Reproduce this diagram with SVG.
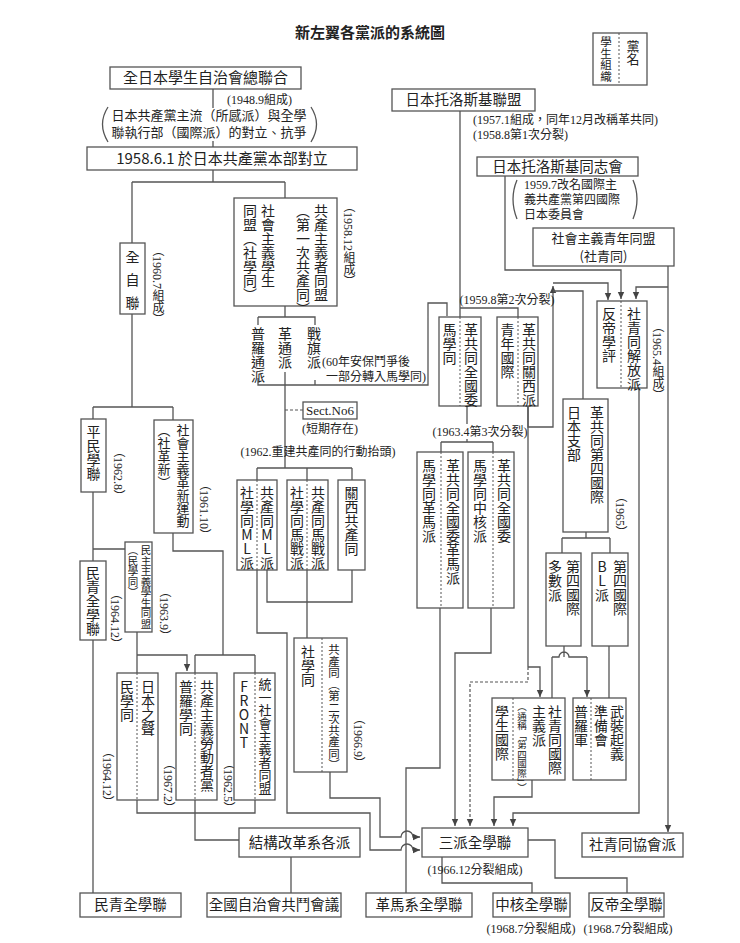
<svg xmlns="http://www.w3.org/2000/svg" width="740" height="943" viewBox="0 0 740 943">
<style>
.b{fill:#fff;stroke:#555;stroke-width:1.3}
.l{fill:none;stroke:#555;stroke-width:1.3}
.d{fill:none;stroke:#555;stroke-width:1.2;stroke-dasharray:3 2}
.dv{fill:none;stroke:#555;stroke-width:1;stroke-dasharray:2 2}
text{font-family:"Noto Sans CJK TC","Noto Sans",sans-serif;fill:#222;font-size:14px}
.h{font-size:14.5px;text-anchor:middle}
.v{writing-mode:vertical-rl}
.u{writing-mode:vertical-rl;text-orientation:upright}
.n{font-family:"Liberation Serif","Noto Sans CJK TC",serif;font-size:12px}
.nv{font-family:"Liberation Serif","Noto Sans CJK TC",serif;font-size:12px;writing-mode:vertical-rl}
.c{text-anchor:middle}
</style>
<defs>
<marker id="a" markerWidth="8" markerHeight="8" refX="7" refY="4" orient="auto" markerUnits="userSpaceOnUse"><path d="M0,0.8 L7,4 L0,7.2 Z" fill="#444"/></marker>
</defs>
<rect width="740" height="943" fill="#fff"/>
<text x="370" y="38" class="c" style="font-size:15px;font-weight:bold">新左翼各黨派的系統圖</text>

<g id="legend">
<rect class="b" x="593" y="33" width="54" height="52"/>
<line class="dv" x1="619" y1="33" x2="619" y2="85"/>
<text class="v" x="606" y="36" style="font-size:11.5px">學生組織</text>
<text class="v" x="633" y="40" style="font-size:13px">黨名</text>
</g>

<g id="connectors">
<path class="l" d="M213,89 V108 M213,141 V147 M213,170 V182 M132,182 H285 M132,182 V243 M285,182 V198"/>
<line class="dv" x1="285" y1="198" x2="285" y2="306"/>
<path class="l" d="M285,306 V317 M258,317 H315 V325 M258,317 V325 M258,378 V385 H428 V303 H447 V316 M315,380 V385 M285,372 V468"/>
<path class="d" d="M285,410 H303"/>
<path class="l" d="M257,468 H352 M257,468 V480 M307,468 V480 M352,468 V480"/>
<path class="l" d="M267,570 V602 H352 V570 M307,570 V638"/>
<path class="l" d="M257,570 V633 H287 V813 H370 V850 H401 A6,6 0 0 1 413,850 H420" marker-end="url(#a)"/>
<path class="l" d="M330,772 V798 H380 V837 H401 A6,6 0 0 1 413,837 H420" marker-end="url(#a)"/>
<path class="l" d="M132,314 V407 M93,407 H173 M93,407 V419 M173,407 V420 M93,492 V561 M93,549 H125 M93,640 V893"/>
<path class="l" d="M137,632 V673 M137,655 H187 V671" marker-end="url(#a)"/>
<path class="l" d="M173,533 V551 H223 V655 M195,655 H255 M195,655 V673 M255,655 V673"/>
<path class="l" d="M137,800 V813 H255 V800 M195,800 V840 H239 M291,857 V893"/>
<path class="l" d="M460,111 V317 M460,308 H518 V317"/>
<path class="l" d="M505,176 V270 H621 V299" marker-end="url(#a)"/>
<path class="l" d="M668,266 V832" marker-end="url(#a)"/>
<path class="l" d="M668,287 H636 V299" marker-end="url(#a)"/>
<path class="l" d="M467,406 V424 M467,439 V442 M441,442 H493 M441,442 V452 M493,442 V452"/>
<path class="l" d="M528,406 V427 H553 V286" marker-end="url(#a)"/>
<path class="l" d="M553,283 H608 V300" marker-end="url(#a)"/>
<path class="l" d="M583,399 V291 H553 M528,406 V667"/>
<path class="l" d="M586,532 V538 M562,538 H610 M562,538 V553 M610,538 V553"/>
<path class="l" d="M564,646 V657 M552,657 H559 A5,5 0 0 1 569,657 H587 M552,657 V698 M609,646 V698"/>
<path class="l" d="M587,657 V697" marker-end="url(#a)"/>
<path class="l" d="M528,667 H540 V697" marker-end="url(#a)"/>
<path class="d" d="M528,667 V682 H470 V826" marker-end="url(#a)"/>
<path class="l" d="M532,780 V797 H494 V826" marker-end="url(#a)"/>
<path class="l" d="M639,388 V813 H513 V826" marker-end="url(#a)"/>
<path class="l" d="M491,608 V653 H455 V826" marker-end="url(#a)"/>
<path class="l" d="M440,608 V768 H406 V893"/>
<path class="l" d="M442,857 V883 H532 V893 M528,840 H555 V878 H627 V893"/>
</g>

<g id="n-zengakuren">
<rect class="b" x="110" y="67" width="191" height="22"/>
<text class="h" x="205.5" y="83" style="font-size:15px">全日本學生自治會總聯合</text>
<text class="n" x="227" y="104">(1948.9組成)</text>
<text class="n c" x="209" y="120" style="font-size:13px">日本共產黨主流（所感派）與全學</text>
<text class="n c" x="209" y="137" style="font-size:13px">聯執行部（國際派）的對立、抗爭</text>
<path class="l" d="M108,107 Q97,124 108,142 M311,107 Q322,124 311,142"/>
</g>
<g id="n-1958">
<rect class="b" x="87" y="147" width="270" height="23"/>
<text class="h" x="222" y="164" style="font-size:15px">1958.6.1 於日本共產黨本部對立</text>
</g>
<g id="n-zenjiren">
<rect class="b" x="120" y="243" width="25" height="71"/>
<text class="v" x="132.5" y="250" style="letter-spacing:9px">全自聯</text>
<text class="nv" x="157" y="244">（1960.7組成）</text>
</g>
<g id="n-bund1">
<rect class="b" x="234" y="198" width="103" height="108"/>
<text class="v" x="268" y="204">社會主義學生</text>
<text class="v" x="250" y="204">同盟（社學同）</text>
<text class="v" x="321" y="204">共產主義者同盟</text>
<text class="v" x="303" y="204">（第一次共產同）</text>
<text class="nv" x="348" y="200">（1958.12組成）</text>
</g>
<g id="n-split1">
<text class="v" x="258" y="327">普羅通派</text>
<text class="v" x="285" y="327">革通派</text>
<text class="v" x="314" y="327">戰旗派</text>
<text class="n" x="322" y="366">(60年安保鬥爭後</text>
<text class="n" x="326" y="381">一部分轉入馬學同)</text>
</g>
<g id="n-sect6">
<rect class="b" x="303" y="402" width="54" height="17"/>
<text class="n c" x="330" y="415" style="font-size:13px">Sect.No6</text>
<text class="n c" x="330" y="433">(短期存在)</text>
<text class="n c" x="318" y="456">(1962.重建共產同的行動抬頭)</text>
</g>
<g id="n-ml">
<rect class="b" x="237" y="480" width="40" height="90"/>
<line class="dv" x1="257" y1="480" x2="257" y2="570"/>
<text class="u" x="247" y="486">社學同ML派</text>
<text class="u" x="267" y="486">共產同ML派</text>
</g>
<g id="n-maxsen">
<rect class="b" x="287" y="480" width="41" height="90"/>
<line class="dv" x1="307" y1="480" x2="307" y2="570"/>
<text class="v" x="297" y="486">社學同馬戰派</text>
<text class="v" x="318" y="486">共產同馬戰派</text>
</g>
<g id="n-kansai-bund">
<rect class="b" x="338" y="480" width="27" height="90"/>
<text class="v" x="351.5" y="486">關西共產同</text>
</g>
<g id="n-bund2">
<rect class="b" x="294" y="638" width="53" height="134"/>
<line class="dv" x1="322" y1="638" x2="322" y2="772"/>
<text class="v" x="308" y="645">社學同</text>
<text class="v" x="334" y="644" style="font-size:11.5px">共產同（第二次共產同）</text>
<text class="nv" x="358" y="712">（1966.9）</text>
</g>
<g id="n-heimin">
<rect class="b" x="81" y="419" width="25" height="73"/>
<text class="v" x="93.5" y="425">平民學聯</text>
<text class="nv" x="118" y="445">（1962.8）</text>
</g>
<g id="n-shakaku">
<rect class="b" x="154" y="420" width="39" height="113"/>
<text class="v" x="183" y="424" style="font-size:13px">社會主義革新運動</text>
<text class="v" x="164" y="424" style="font-size:13px">（社革新）</text>
<text class="nv" x="204" y="478">（1961.10）</text>
</g>
<g id="n-mingakudo1">
<rect class="b" x="125" y="542" width="27" height="90"/>
<text class="v" x="146" y="545" style="font-size:10.5px">民主主義學生同盟</text>
<text class="v" x="133" y="545" style="font-size:10.5px">（民學同）</text>
<text class="nv" x="164" y="585">（1963.9）</text>
</g>
<g id="n-minsei">
<rect class="b" x="80" y="561" width="26" height="79"/>
<text class="v" x="93" y="566">民青全學聯</text>
<text class="nv" x="115" y="587">（1964.12）</text>
</g>
<g id="n-nihonnokoe">
<rect class="b" x="117" y="673" width="41" height="127"/>
<line class="dv" x1="137" y1="673" x2="137" y2="800"/>
<text class="v" x="127" y="680">民學同</text>
<text class="v" x="148" y="680">日本之聲</text>
<text class="nv" x="107" y="745">（1964.12）</text>
<text class="nv" x="168" y="757">（1967.2）</text>
</g>
<g id="n-proletarian">
<rect class="b" x="176" y="673" width="41" height="127"/>
<line class="dv" x1="195" y1="673" x2="195" y2="800"/>
<text class="v" x="186" y="680">普羅學同</text>
<text class="v" x="207" y="680">共產主義勞動者黨</text>
<text class="nv" x="228" y="757">（1962.5）</text>
</g>
<g id="n-front">
<rect class="b" x="234" y="673" width="41" height="127"/>
<line class="dv" x1="255" y1="673" x2="255" y2="800"/>
<text class="u" x="244" y="680">FRONT</text>
<text class="v" x="265" y="678" style="font-size:13px">統一社會主義者同盟</text>
</g>
<g id="n-kozo">
<rect class="b" x="239" y="828" width="121" height="29"/>
<text class="h" x="299.5" y="848">結構改革系各派</text>
</g>
<g id="n-zenkoku">
<rect class="b" x="207" y="893" width="134" height="24"/>
<text class="h" x="274" y="910">全國自治會共鬥會議</text>
</g>
<g id="n-minsei2">
<rect class="b" x="80" y="893" width="101" height="24"/>
<text class="h" x="130.5" y="910">民青全學聯</text>
</g>
<g id="n-trotsky">
<rect class="b" x="392" y="89" width="143" height="22"/>
<text class="h" x="463.5" y="105">日本托洛斯基聯盟</text>
<text class="n" x="473" y="124">(1957.1組成，同年12月改稱革共同)</text>
<text class="n" x="473" y="139">(1958.8第1次分裂)</text>
</g>
<g id="n-doshikai">
<rect class="b" x="477" y="157" width="161" height="19"/>
<text class="h" x="557.5" y="172">日本托洛斯基同志會</text>
<text class="n" x="524" y="189">1959.7改名國際主</text>
<text class="n" x="524" y="204">義共產黨第四國際</text>
<text class="n" x="524" y="219">日本委員會</text>
<path class="l" d="M517,180 Q509,199 517,219 M633,180 Q641,199 633,219"/>
</g>
<g id="n-shaseido">
<rect class="b" x="533" y="228" width="141" height="38"/>
<text class="h" x="603.5" y="243" style="font-size:13px">社會主義青年同盟</text>
<text class="h" x="603.5" y="261" style="font-size:13px">(社青同)</text>
</g>
<text class="n c" x="507" y="304">(1959.8第2次分裂)</text>
<g id="n-magakudo">
<rect class="b" x="439" y="317" width="42" height="89"/>
<line class="dv" x1="460" y1="317" x2="460" y2="406"/>
<text class="v" x="449.5" y="323">馬學同</text>
<text class="v" x="471" y="323">革共同全國委</text>
</g>
<g id="n-seinen">
<rect class="b" x="497" y="317" width="41" height="89"/>
<line class="dv" x1="518" y1="317" x2="518" y2="406"/>
<text class="v" x="507.5" y="323">青年國際</text>
<text class="v" x="529" y="323">革共同關西派</text>
</g>
<g id="n-hantei">
<rect class="b" x="597" y="301" width="50" height="87"/>
<line class="dv" x1="621" y1="301" x2="621" y2="388"/>
<text class="v" x="609" y="307">反帝學評</text>
<text class="v" x="634" y="307">社青同解放派</text>
<text class="nv" x="657" y="320">（1965.4組成）</text>
</g>
<text class="n c" x="480" y="436">(1963.4第3次分裂)</text>
<g id="n-kakumaru">
<rect class="b" x="417" y="452" width="46" height="156"/>
<line class="dv" x1="441" y1="452" x2="441" y2="608"/>
<text class="v" x="429" y="459">馬學同革馬派</text>
<text class="v" x="453" y="459">革共同全國委革馬派</text>
</g>
<g id="n-chukaku">
<rect class="b" x="468" y="452" width="46" height="156"/>
<line class="dv" x1="493" y1="452" x2="493" y2="608"/>
<text class="v" x="480" y="459">馬學同中核派</text>
<text class="v" x="504" y="459">革共同全國委</text>
</g>
<g id="n-jrcl">
<rect class="b" x="563" y="399" width="45" height="133"/>
<text class="v" x="574" y="406">日本支部</text>
<text class="v" x="597" y="406">革共同第四國際</text>
<text class="nv" x="620" y="490">（1965）</text>
</g>
<g id="n-tasu">
<rect class="b" x="546" y="553" width="35" height="93"/>
<text class="v" x="555" y="560">多數派</text>
<text class="v" x="573" y="560">第四國際</text>
</g>
<g id="n-bl">
<rect class="b" x="592" y="553" width="36" height="93"/>
<text class="u" x="602" y="560">BL派</text>
<text class="v" x="620" y="560">第四國際</text>
</g>
<g id="n-shaseido-kokusai">
<rect class="b" x="492" y="698" width="73" height="82"/>
<line class="dv" x1="513" y1="698" x2="513" y2="780"/>
<text class="v" x="502" y="705">學生國際</text>
<text class="v" x="555" y="705">社青同國際</text>
<text class="v" x="539" y="705">主義派</text>
<text class="v" x="522" y="702" style="font-size:9.5px">（通稱「第四國際」）</text>
</g>
<g id="n-puroren">
<rect class="b" x="573" y="698" width="53" height="82"/>
<line class="dv" x1="591" y1="698" x2="591" y2="780"/>
<text class="v" x="581" y="705">普羅軍</text>
<text class="v" x="601" y="705">準備會</text>
<text class="v" x="617" y="705">武裝起義</text>
</g>
<g id="n-sanpa">
<rect class="b" x="422" y="828" width="106" height="29"/>
<text class="h" x="475" y="848">三派全學聯</text>
<text class="n c" x="475" y="874">(1966.12分裂組成)</text>
</g>
<g id="n-kyokai">
<rect class="b" x="582" y="833" width="101" height="24"/>
<text class="h" x="632.5" y="850">社青同協會派</text>
</g>
<g id="n-kakumaru-z">
<rect class="b" x="366" y="893" width="106" height="24"/>
<text class="h" x="419" y="910">革馬系全學聯</text>
</g>
<g id="n-chukaku-z">
<rect class="b" x="493" y="893" width="77" height="24"/>
<text class="h" x="531.5" y="910">中核全學聯</text>
<text class="n c" x="531" y="933">(1968.7分裂組成)</text>
</g>
<g id="n-hantei-z">
<rect class="b" x="589" y="893" width="75" height="24"/>
<text class="h" x="626.5" y="910">反帝全學聯</text>
<text class="n c" x="628" y="933">(1968.7分裂組成)</text>
</g>
</svg>
